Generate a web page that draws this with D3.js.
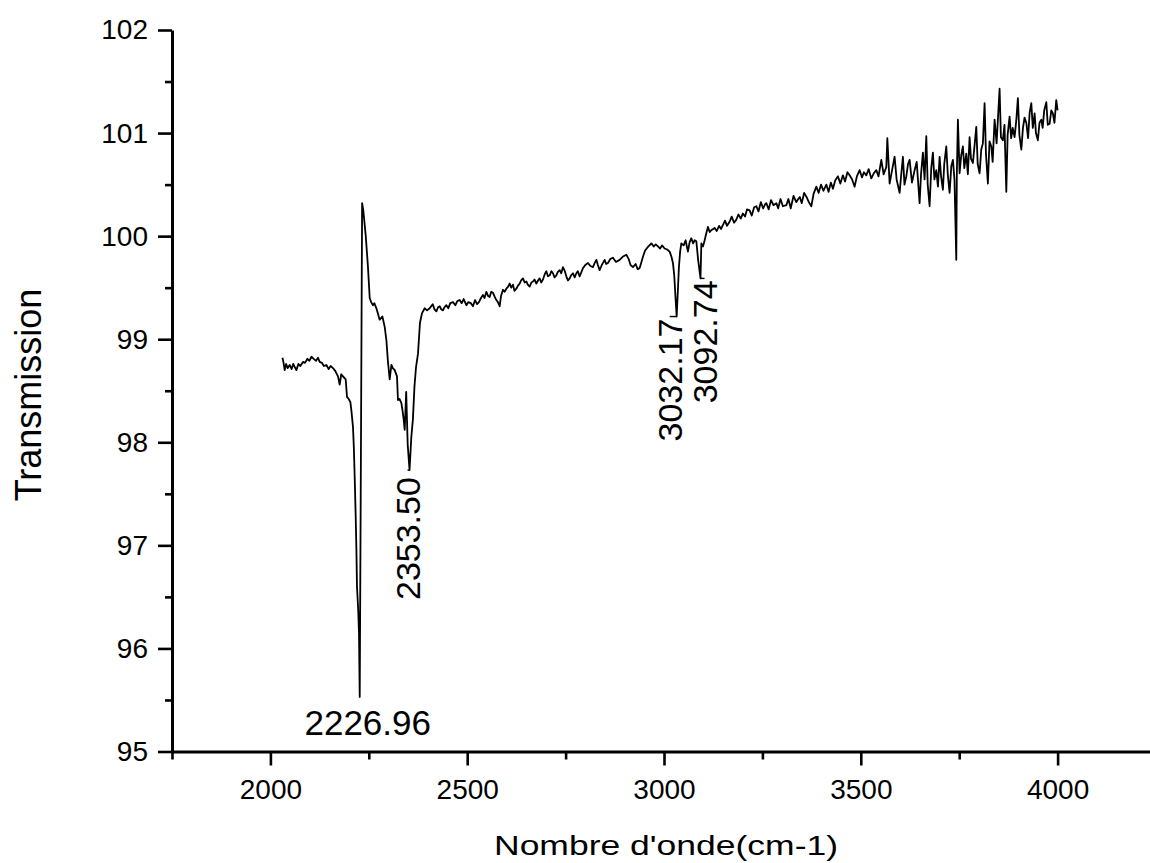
<!DOCTYPE html>
<html>
<head>
<meta charset="utf-8">
<script src="https://d3js.org/d3.v7.min.js"></script>
<style>
  html, body { margin: 0; padding: 0; background: #fff; }
  #vis-container { width: 1150px; height: 863px; }
</style>
</head>
<body>
<div id="vis-container"></div>
<script>
// IR spectrum, transmission vs wavenumber
const wavenumbers = [
  2030.5, 2033, 2036.3, 2040, 2044, 2049.0, 2054, 2058, 2062, 2066.0,
  2071, 2076, 2082.8, 2088, 2094, 2099, 2104.2, 2110, 2116, 2121,
  2125.2, 2131, 2136, 2142.3, 2148, 2153, 2159.0, 2165, 2171.7, 2176.0,
  2180, 2184.4, 2191.3, 2194.6, 2199, 2203.2, 2206, 2209.8, 2212, 2214.1,
  2216.7, 2218.5, 2220.0, 2223, 2225.1, 2226.96, 2230, 2233, 2236, 2242.1,
  2247.9, 2252.3, 2256, 2260.6, 2264, 2269.3, 2277.6, 2284.5, 2290.4, 2294.7,
  2298.7, 2303.1, 2307.4, 2311, 2315.8, 2321.6, 2324.1, 2328, 2332.8, 2336,
  2338.6, 2341.2, 2345.0, 2348.8, 2353.5, 2358, 2362, 2366, 2370, 2375,
  2380, 2385, 2392.0, 2398, 2404.7, 2412.3, 2417, 2421.7, 2426, 2430.1,
  2434, 2438.5, 2442, 2447.1, 2452, 2457, 2463.9, 2470, 2475, 2480.9,
  2486, 2491, 2497.9, 2503, 2509, 2514.7, 2520, 2525, 2529.9, 2535,
  2540.1, 2544, 2548.7, 2553, 2557.1, 2561, 2565.5, 2570, 2574.1, 2578,
  2582.5, 2586, 2590.9, 2595, 2599.5, 2604, 2607.9, 2612, 2616.3, 2620,
  2624.9, 2629, 2633.3, 2637, 2641.7, 2646, 2650.3, 2654, 2658.7, 2663,
  2667.1, 2671, 2675.7, 2680, 2684.1, 2688, 2692.5, 2697, 2701.1, 2705,
  2709.5, 2714, 2717.9, 2722, 2726.5, 2730, 2734.9, 2739, 2743.3, 2748,
  2751.9, 2756, 2760.3, 2764, 2768.7, 2773, 2777.3, 2781, 2785.7, 2790,
  2794.1, 2800, 2806.8, 2813, 2819.5, 2824, 2828.2, 2832, 2836.5, 2842,
  2849.2, 2853, 2857.6, 2864, 2870.3, 2878, 2887.3, 2895, 2904.3, 2910,
  2915, 2921.1, 2928, 2933, 2938.1, 2942, 2946.5, 2952, 2958, 2963,
  2967.9, 2974, 2979, 2984.6, 2990, 2995, 3001.6, 3008, 3014.3, 3019,
  3022.7, 3026, 3029.6, 3032.17, 3035, 3037.9, 3041, 3044.0, 3050, 3055.0,
  3058, 3060.8, 3065, 3069.5, 3074, 3078, 3082.2, 3086.7, 3092.74, 3094.9,
  3099, 3103.3, 3107, 3111.6, 3116, 3121, 3128.7, 3134, 3140, 3145,
  3149.8, 3155, 3160, 3166.7, 3172, 3178, 3183.8, 3189, 3195, 3200.5,
  3206, 3211, 3217.5, 3223, 3229, 3234.6, 3240, 3246, 3252, 3257,
  3260.0, 3266, 3272, 3278, 3285.4, 3290, 3296, 3302, 3310.8, 3316,
  3322, 3329, 3336.2, 3341, 3345.1, 3350, 3356, 3362.1, 3368, 3374.3,
  3380, 3387.0, 3393, 3399, 3405, 3412.4, 3418, 3424, 3429.2, 3435,
  3441.9, 3448, 3454.6, 3460, 3466, 3471.6, 3478, 3484.3, 3490, 3497.0,
  3503, 3508, 3514.0, 3520, 3526.7, 3533, 3539.4, 3545, 3552.1, 3558,
  3564.8, 3567.4, 3573.2, 3579, 3585.9, 3591, 3598.6, 3603, 3607.0, 3611,
  3615.6, 3620, 3624.0, 3630, 3636.7, 3642, 3649.4, 3653, 3657.8, 3662,
  3666.4, 3670, 3674.8, 3679, 3683.2, 3687, 3691.8, 3696, 3700.2, 3704,
  3708.6, 3712, 3717.2, 3721, 3725.6, 3730, 3734.0, 3738, 3742.6, 3744,
  3746.7, 3751.0, 3755, 3759.4, 3763, 3768.0, 3772, 3776.4, 3780, 3784.8,
  3789, 3793.4, 3797, 3801.8, 3806, 3810.2, 3814.5, 3818, 3822.9, 3827,
  3831.6, 3835, 3839.9, 3845, 3852.6, 3856, 3861.0, 3865, 3869.7, 3873,
  3878.0, 3882, 3886, 3890.7, 3895, 3899.1, 3903, 3907.8, 3912, 3916,
  3920.5, 3925, 3929, 3933.2, 3937, 3941.6, 3945, 3949.9, 3954, 3958.6,
  3962, 3966, 3971.3, 3975, 3979.7, 3984, 3988.0, 3992, 3996.6, 4000.0
];

const transmission = [
  98.82, 98.78, 98.70, 98.76, 98.72, 98.75, 98.71, 98.76, 98.73, 98.70,
  98.76, 98.74, 98.78, 98.77, 98.81, 98.79, 98.83, 98.81, 98.79, 98.82,
  98.78, 98.77, 98.74, 98.75, 98.71, 98.74, 98.72, 98.69, 98.64, 98.56,
  98.66, 98.64, 98.61, 98.44, 98.42, 98.39, 98.30, 98.15, 97.95, 97.67,
  97.28, 96.96, 96.60, 96.38, 96.15, 95.53, 97.90, 100.32, 100.25, 100.01,
  99.70, 99.40, 99.36, 99.33, 99.35, 99.30, 99.19, 99.22, 99.12, 98.99,
  98.78, 98.61, 98.75, 98.72, 98.70, 98.64, 98.41, 98.42, 98.38, 98.30,
  98.22, 98.12, 98.49, 97.98, 97.73, 98.05, 98.22, 98.54, 98.73, 98.86,
  99.16, 99.25, 99.30, 99.28, 99.30, 99.34, 99.29, 99.27, 99.31, 99.32,
  99.29, 99.28, 99.31, 99.33, 99.30, 99.35, 99.36, 99.33, 99.37, 99.38,
  99.35, 99.39, 99.33, 99.36, 99.35, 99.32, 99.38, 99.34, 99.36, 99.40,
  99.43, 99.40, 99.46, 99.42, 99.41, 99.46, 99.45, 99.41, 99.38, 99.36,
  99.32, 99.42, 99.48, 99.46, 99.49, 99.51, 99.54, 99.50, 99.53, 99.47,
  99.49, 99.52, 99.54, 99.57, 99.59, 99.55, 99.56, 99.53, 99.51, 99.55,
  99.56, 99.58, 99.54, 99.57, 99.59, 99.55, 99.58, 99.63, 99.66, 99.61,
  99.62, 99.66, 99.64, 99.60, 99.62, 99.65, 99.67, 99.64, 99.70, 99.66,
  99.61, 99.57, 99.59, 99.62, 99.64, 99.60, 99.64, 99.66, 99.61, 99.65,
  99.69, 99.72, 99.74, 99.71, 99.70, 99.74, 99.77, 99.72, 99.67, 99.72,
  99.77, 99.73, 99.74, 99.78, 99.79, 99.75, 99.77, 99.80, 99.82, 99.78,
  99.72, 99.70, 99.73, 99.68, 99.69, 99.74, 99.80, 99.86, 99.89, 99.91,
  99.93, 99.90, 99.92, 99.90, 99.88, 99.91, 99.88, 99.87, 99.85, 99.80,
  99.74, 99.62, 99.38, 99.22, 99.45, 99.70, 99.85, 99.93, 99.91, 99.96,
  99.90, 99.85, 99.94, 99.98, 99.93, 99.96, 99.95, 99.77, 99.59, 99.93,
  99.90, 99.96, 100.02, 100.09, 100.04, 100.06, 100.08, 100.05, 100.10, 100.07,
  100.11, 100.15, 100.10, 100.14, 100.19, 100.13, 100.16, 100.21, 100.17, 100.22,
  100.19, 100.26, 100.25, 100.20, 100.28, 100.29, 100.24, 100.33, 100.27, 100.31,
  100.32, 100.26, 100.35, 100.30, 100.32, 100.27, 100.36, 100.29, 100.30, 100.36,
  100.27, 100.39, 100.33, 100.36, 100.38, 100.32, 100.42, 100.38, 100.33, 100.29,
  100.41, 100.48, 100.42, 100.50, 100.44, 100.50, 100.43, 100.52, 100.46, 100.54,
  100.58, 100.51, 100.59, 100.53, 100.62, 100.59, 100.55, 100.48, 100.58, 100.64,
  100.57, 100.62, 100.59, 100.65, 100.56, 100.61, 100.64, 100.58, 100.74, 100.60,
  100.67, 100.95, 100.51, 100.63, 100.77, 100.55, 100.42, 100.61, 100.77, 100.50,
  100.58, 100.70, 100.74, 100.52, 100.64, 100.72, 100.32, 100.60, 100.81, 100.55,
  100.97, 100.50, 100.29, 100.66, 100.81, 100.55, 100.64, 100.48, 100.77, 100.58,
  100.45, 100.70, 100.87, 100.60, 100.42, 100.68, 100.74, 100.55, 99.77, 100.60,
  101.13, 100.61, 100.78, 100.87, 100.66, 100.80, 100.60, 100.96, 100.75, 100.71,
  100.88, 101.06, 100.70, 100.61, 100.84, 100.90, 101.29, 100.80, 100.51, 100.92,
  100.87, 100.72, 101.13, 100.90, 101.43, 100.96, 100.93, 101.08, 100.43, 100.98,
  101.16, 100.95, 101.05, 100.96, 101.12, 101.34, 100.98, 100.84, 101.05, 101.15,
  101.10, 100.95, 101.20, 101.29, 101.05, 101.19, 101.00, 100.93, 101.10, 101.13,
  101.05, 101.22, 101.30, 101.08, 101.09, 101.22, 101.19, 101.10, 101.32, 101.22
];

// peak annotations
const peakWaves = [2226.96, 2353.50, 3032.17, 3092.74];
const peakTexts = ["2226.96", "2353.50", "3032.17", "3092.74"];

// axis ticks
const xTicks = [2000, 2500, 3000, 3500, 4000];
const xMinorTicks = [1750, 2250, 2750, 3250, 3750, 4250];
const yTicks = [95, 96, 97, 98, 99, 100, 101, 102];
const yMinorTicks = [95.5, 96.5, 97.5, 98.5, 99.5, 100.5, 101.5];

const xTitle = "Nombre d'onde(cm-1)";
const yTitle = "Transmission";

// label placement relative to the peak point (pixels)
const labelLayout = [
  { rotate: false, dx: 8, dy: 38 },
  { rotate: true, dx: 10, dy: 7 },
  { rotate: true, dx: 5, dy: 2 },
  { rotate: true, dx: 16, dy: 2 }
];

const width = 1150;
const height = 863;
const font = "'Liberation Sans', Arial, sans-serif";

const svg = d3.select("#vis-container")
  .append("svg")
  .attr("width", width)
  .attr("height", height)
  .style("background", "#fff");

const xScale = d3.scaleLinear()
  .domain([1750, 4250])
  .range([172, 1156]);

const yScale = d3.scaleLinear()
  .domain([95, 102])
  .range([751.5, 30]);

const points = wavenumbers.map((w, i) => ({ w: w, t: transmission[i] }));

// spectrum
const line = d3.line()
  .x(d => xScale(d.w))
  .y(d => yScale(d.t));

svg.append("path")
  .datum(points)
  .attr("d", line)
  .attr("fill", "none")
  .attr("stroke", "#000")
  .attr("stroke-width", 1.8)
  .attr("stroke-linejoin", "round");

// X axis
const xAxis = d3.axisBottom(xScale)
  .tickValues(xTicks)
  .tickSize(14)
  .tickSizeOuter(0)
  .tickPadding(14)
  .tickFormat(d3.format("d"));

svg.append("g")
  .attr("transform", `translate(0,${yScale(95)})`)
  .call(xAxis);

svg.append("g")
  .attr("transform", `translate(0,${yScale(95)})`)
  .call(d3.axisBottom(xScale).tickValues(xMinorTicks).tickSize(8).tickSizeOuter(0).tickFormat(""))
  .select(".domain").remove();

// Y axis
const yAxis = d3.axisLeft(yScale)
  .tickValues(yTicks)
  .tickSize(14)
  .tickSizeOuter(0)
  .tickPadding(10)
  .tickFormat(d3.format("d"));

svg.append("g")
  .attr("transform", `translate(${xScale(1750)},0)`)
  .call(yAxis);

svg.append("g")
  .attr("transform", `translate(${xScale(1750)},0)`)
  .call(d3.axisLeft(yScale).tickValues(yMinorTicks).tickSize(7).tickSizeOuter(0).tickFormat(""))
  .select(".domain").remove();

svg.selectAll(".domain").attr("stroke", "#000").attr("stroke-width", 3);
svg.selectAll(".tick line").attr("stroke", "#000").attr("stroke-width", 2.6);
svg.selectAll(".tick text")
  .attr("fill", "#000")
  .style("font-family", font)
  .style("font-size", "28px");

// axis titles
svg.append("text")
  .attr("x", 494)
  .attr("y", 855)
  .attr("textLength", 344)
  .attr("lengthAdjust", "spacingAndGlyphs")
  .style("font-family", font)
  .style("font-size", "27px")
  .attr("fill", "#000")
  .text(xTitle);

svg.append("text")
  .attr("transform", "translate(41,395) rotate(-90)")
  .attr("text-anchor", "middle")
  .style("font-family", font)
  .style("font-size", "36px")
  .attr("fill", "#000")
  .text(yTitle);

// peak labels
peakWaves.forEach((w, i) => {
  // find the spectrum point for this peak
  const idx = d3.minIndex(wavenumbers, v => Math.abs(v - w));
  const px = xScale(w);
  const py = yScale(transmission[idx]);
  const lay = labelLayout[i];

  if (lay.rotate) {
    svg.append("line")
      .attr("x1", px).attr("y1", py)
      .attr("x2", px + lay.dx - 12).attr("y2", py)
      .attr("stroke", "#000")
      .attr("stroke-width", 1.4);
    svg.append("text")
      .attr("transform", `translate(${px + lay.dx},${py + lay.dy}) rotate(-90)`)
      .attr("text-anchor", "end")
      .style("font-family", font)
      .style("font-size", "34px")
      .attr("fill", "#000")
      .text(peakTexts[i]);
  } else {
    svg.append("text")
      .attr("x", px + lay.dx)
      .attr("y", py + lay.dy)
      .attr("text-anchor", "middle")
      .style("font-family", font)
      .style("font-size", "35px")
      .attr("fill", "#000")
      .text(peakTexts[i]);
  }
});
</script>
</body>
</html>
